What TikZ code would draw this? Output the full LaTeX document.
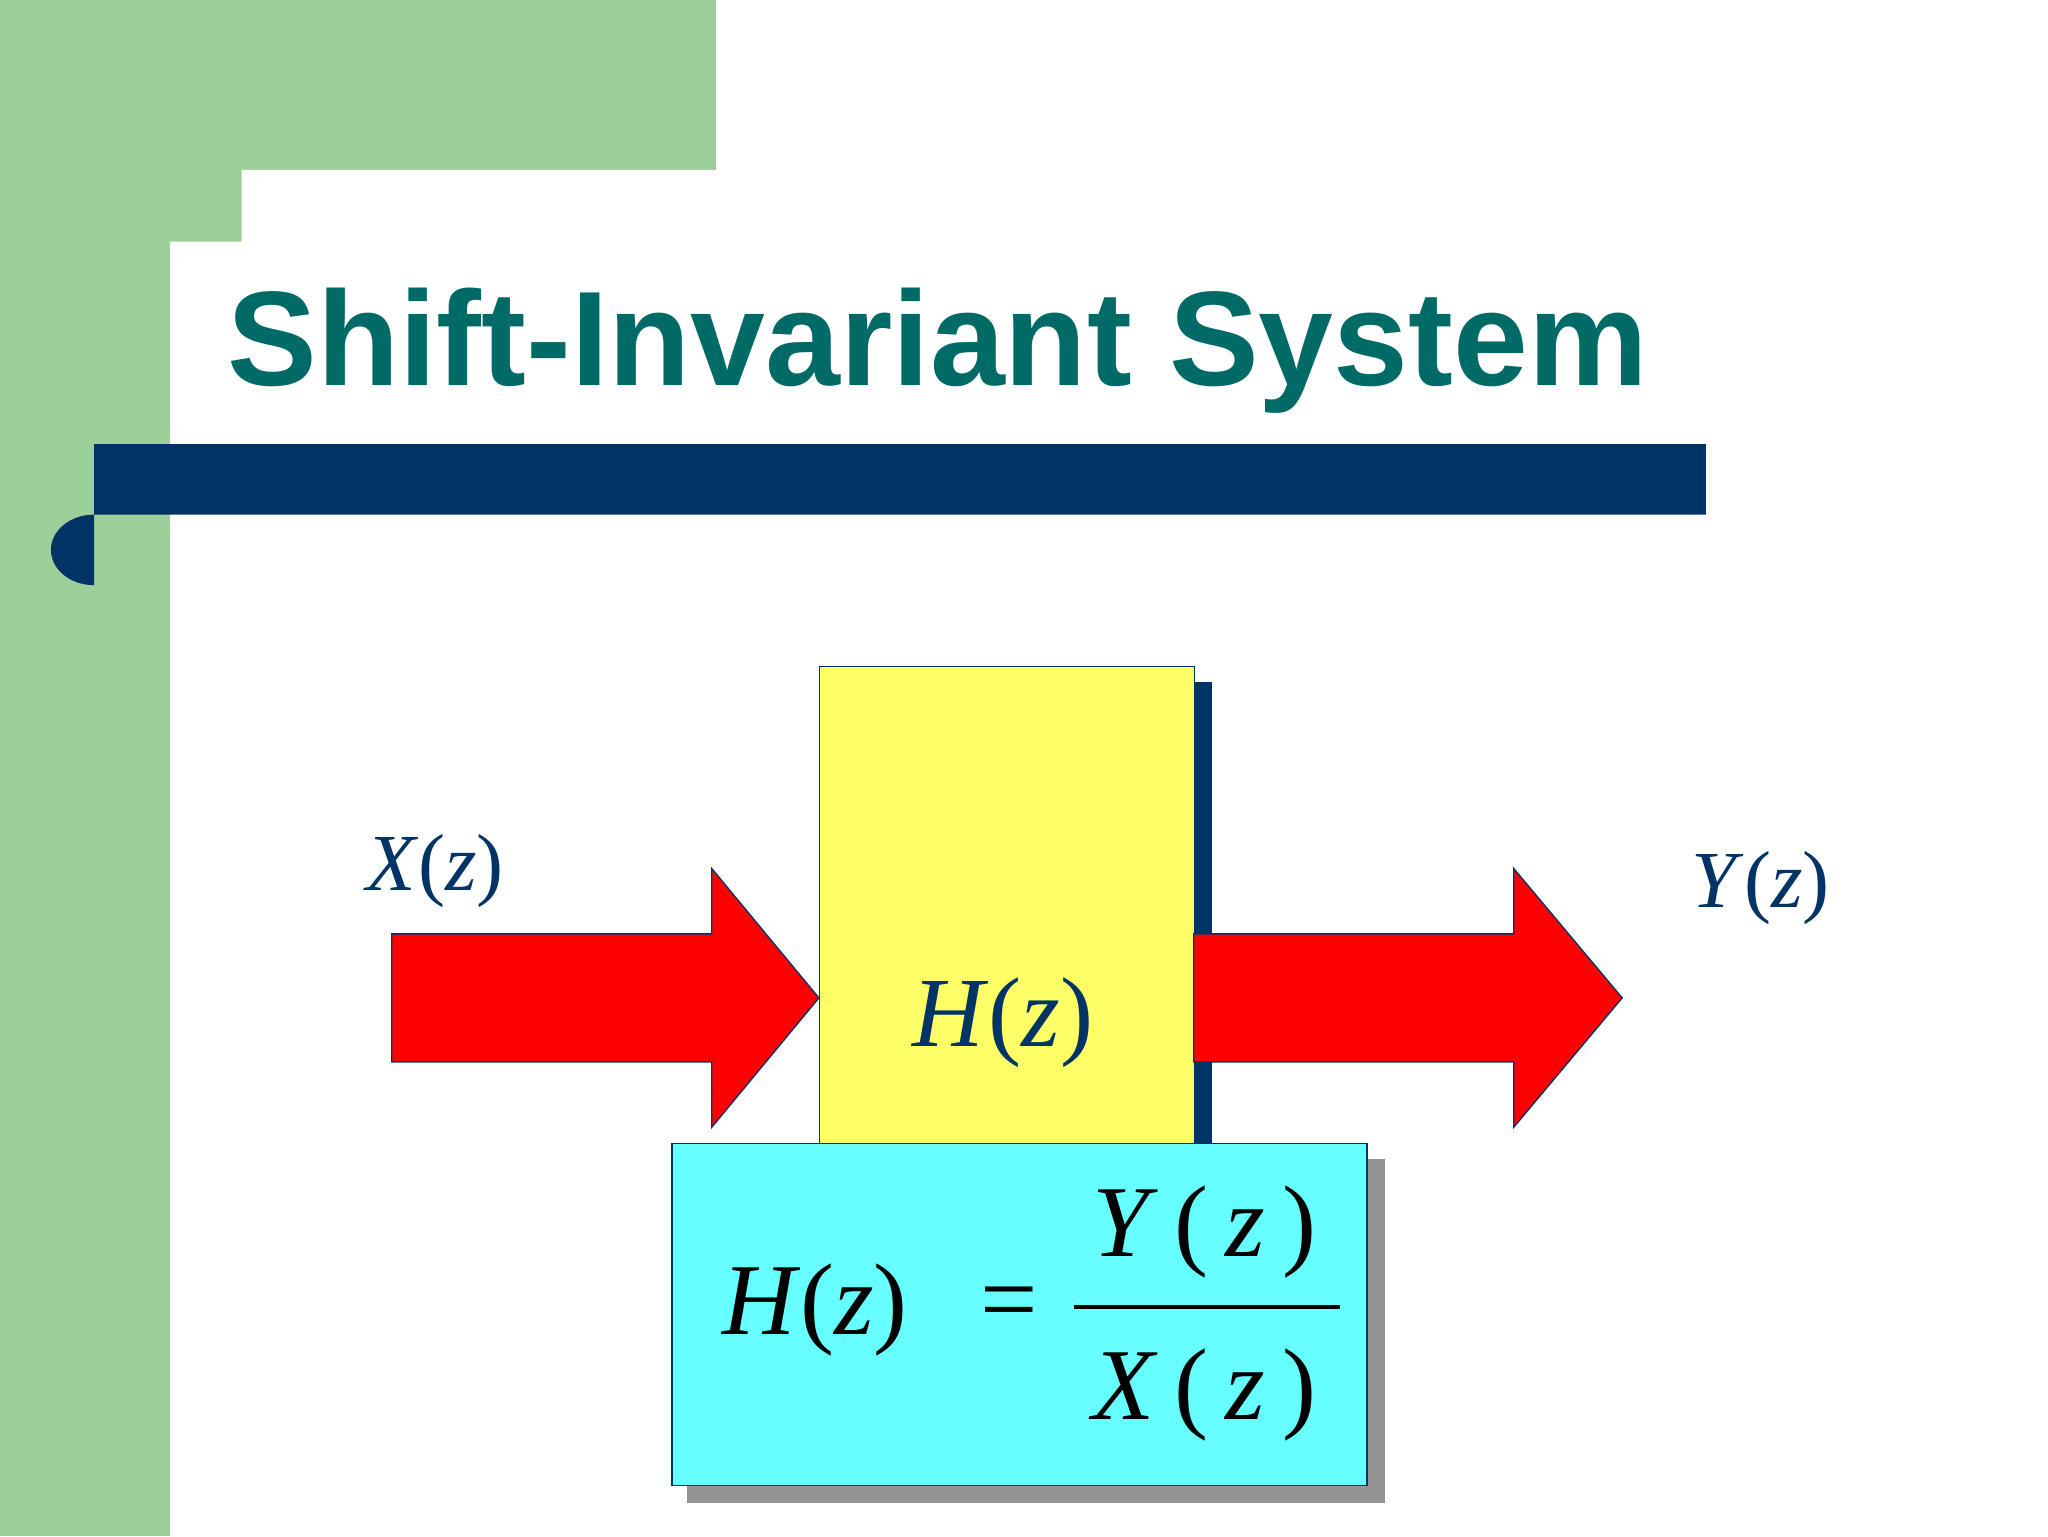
\documentclass[tikz,border=0pt]{standalone}
\usepackage{fontspec}
\setmainfont{Liberation Serif}
\newfontfamily\titlefont{Liberation Sans}
\definecolor{gr}{HTML}{9CCF9A}
\definecolor{teal2}{HTML}{006A66}
\definecolor{navy}{HTML}{003366}
\definecolor{yel}{HTML}{FFFF66}
\definecolor{cy}{HTML}{66FFFF}
\tikzset{arrowshape/.style={fill=red,draw=navy,line width=1pt},
 mlabel/.style={text=navy,inner sep=0pt}}
\begin{document}
\begin{tikzpicture}[x=1pt,y=-1pt]
\useasboundingbox (0,0) rectangle (1568,1176);
\fill[white] (0,0) rectangle (1568,1176);
\fill[gr] (0,0) rectangle (548,130);
\fill[gr] (0,0) rectangle (130,1176);
\fill[gr] (130,130) rectangle (185,185);
\fill[white] (185,130) -- (548,130) -- (548,185) -- (130,185) -- (130,185) arc[start angle=180,end angle=90,radius=55] -- cycle;
\fill[white] (130,185) rectangle (548,1176);
\fill[white] (548,0) rectangle (1568,1176);
\node[anchor=base west,text=teal2,inner sep=0pt,font=\titlefont\bfseries\fontsize{103}{110}\selectfont] (title) at (174,295) {Shift-Invariant System};
\fill[navy] (72,340) -- (1306,340) -- (1306,394) -- (72,394) arc[start angle=90,end angle=270,x radius=33,y radius=-27] -- cycle;
% yellow box
\fill[navy] (900,522) rectangle (928,875);
\node[draw=navy,fill=yel,line width=1pt,minimum width=287,minimum height=365,inner sep=0pt,anchor=north west] (hbox) at (627,510) {};
% arrows
\draw[arrowshape] (300,715) -- (545,715) -- (545,665) -- (627,764) -- (545,863) -- (545,813) -- (300,813) -- cycle;
\draw[arrowshape] (914,715) -- (1159,715) -- (1159,665) -- (1242,764) -- (1159,863) -- (1159,813) -- (914,813) -- cycle;
% cyan box
\fill[gray!95!black,opacity=0.8] (526,887) rectangle (1060,1151);
\node[draw=navy,fill=cy,line width=1pt,minimum width=532,minimum height=262,inner sep=0pt,anchor=north west] (fbox) at (514,875) {};
\node[mlabel,font=\fontsize{62}{70}\selectfont] (x) at (333,667) {\textit{X}(\textit{z})};
\node[mlabel,font=\fontsize{62}{70}\selectfont] (y) at (1348,680) {\textit{Y}(\textit{z})};
\node[mlabel,font=\fontsize{76}{84}\selectfont] (h) at (768,783) {\textit{H}(\textit{z})};
\node[inner sep=0pt,font=\fontsize{78}{86}\selectfont] (hl) at (624,1003) {\textit{H}(\textit{z})};
\node[inner sep=0pt,font=\fontsize{78}{86}\selectfont] (eq) at (773,1003) {=};
\node[inner sep=0pt,font=\fontsize{78}{86}\selectfont] (num) at (922,943) {\textit{Y}\,(\,\textit{z}\,)};
\node[inner sep=0pt,font=\fontsize{78}{86}\selectfont] (den) at (922,1068) {\textit{X}\,(\,\textit{z}\,)};
\draw[line width=3pt] (822,1001) -- (1026,1001);
\end{tikzpicture}
\end{document}
